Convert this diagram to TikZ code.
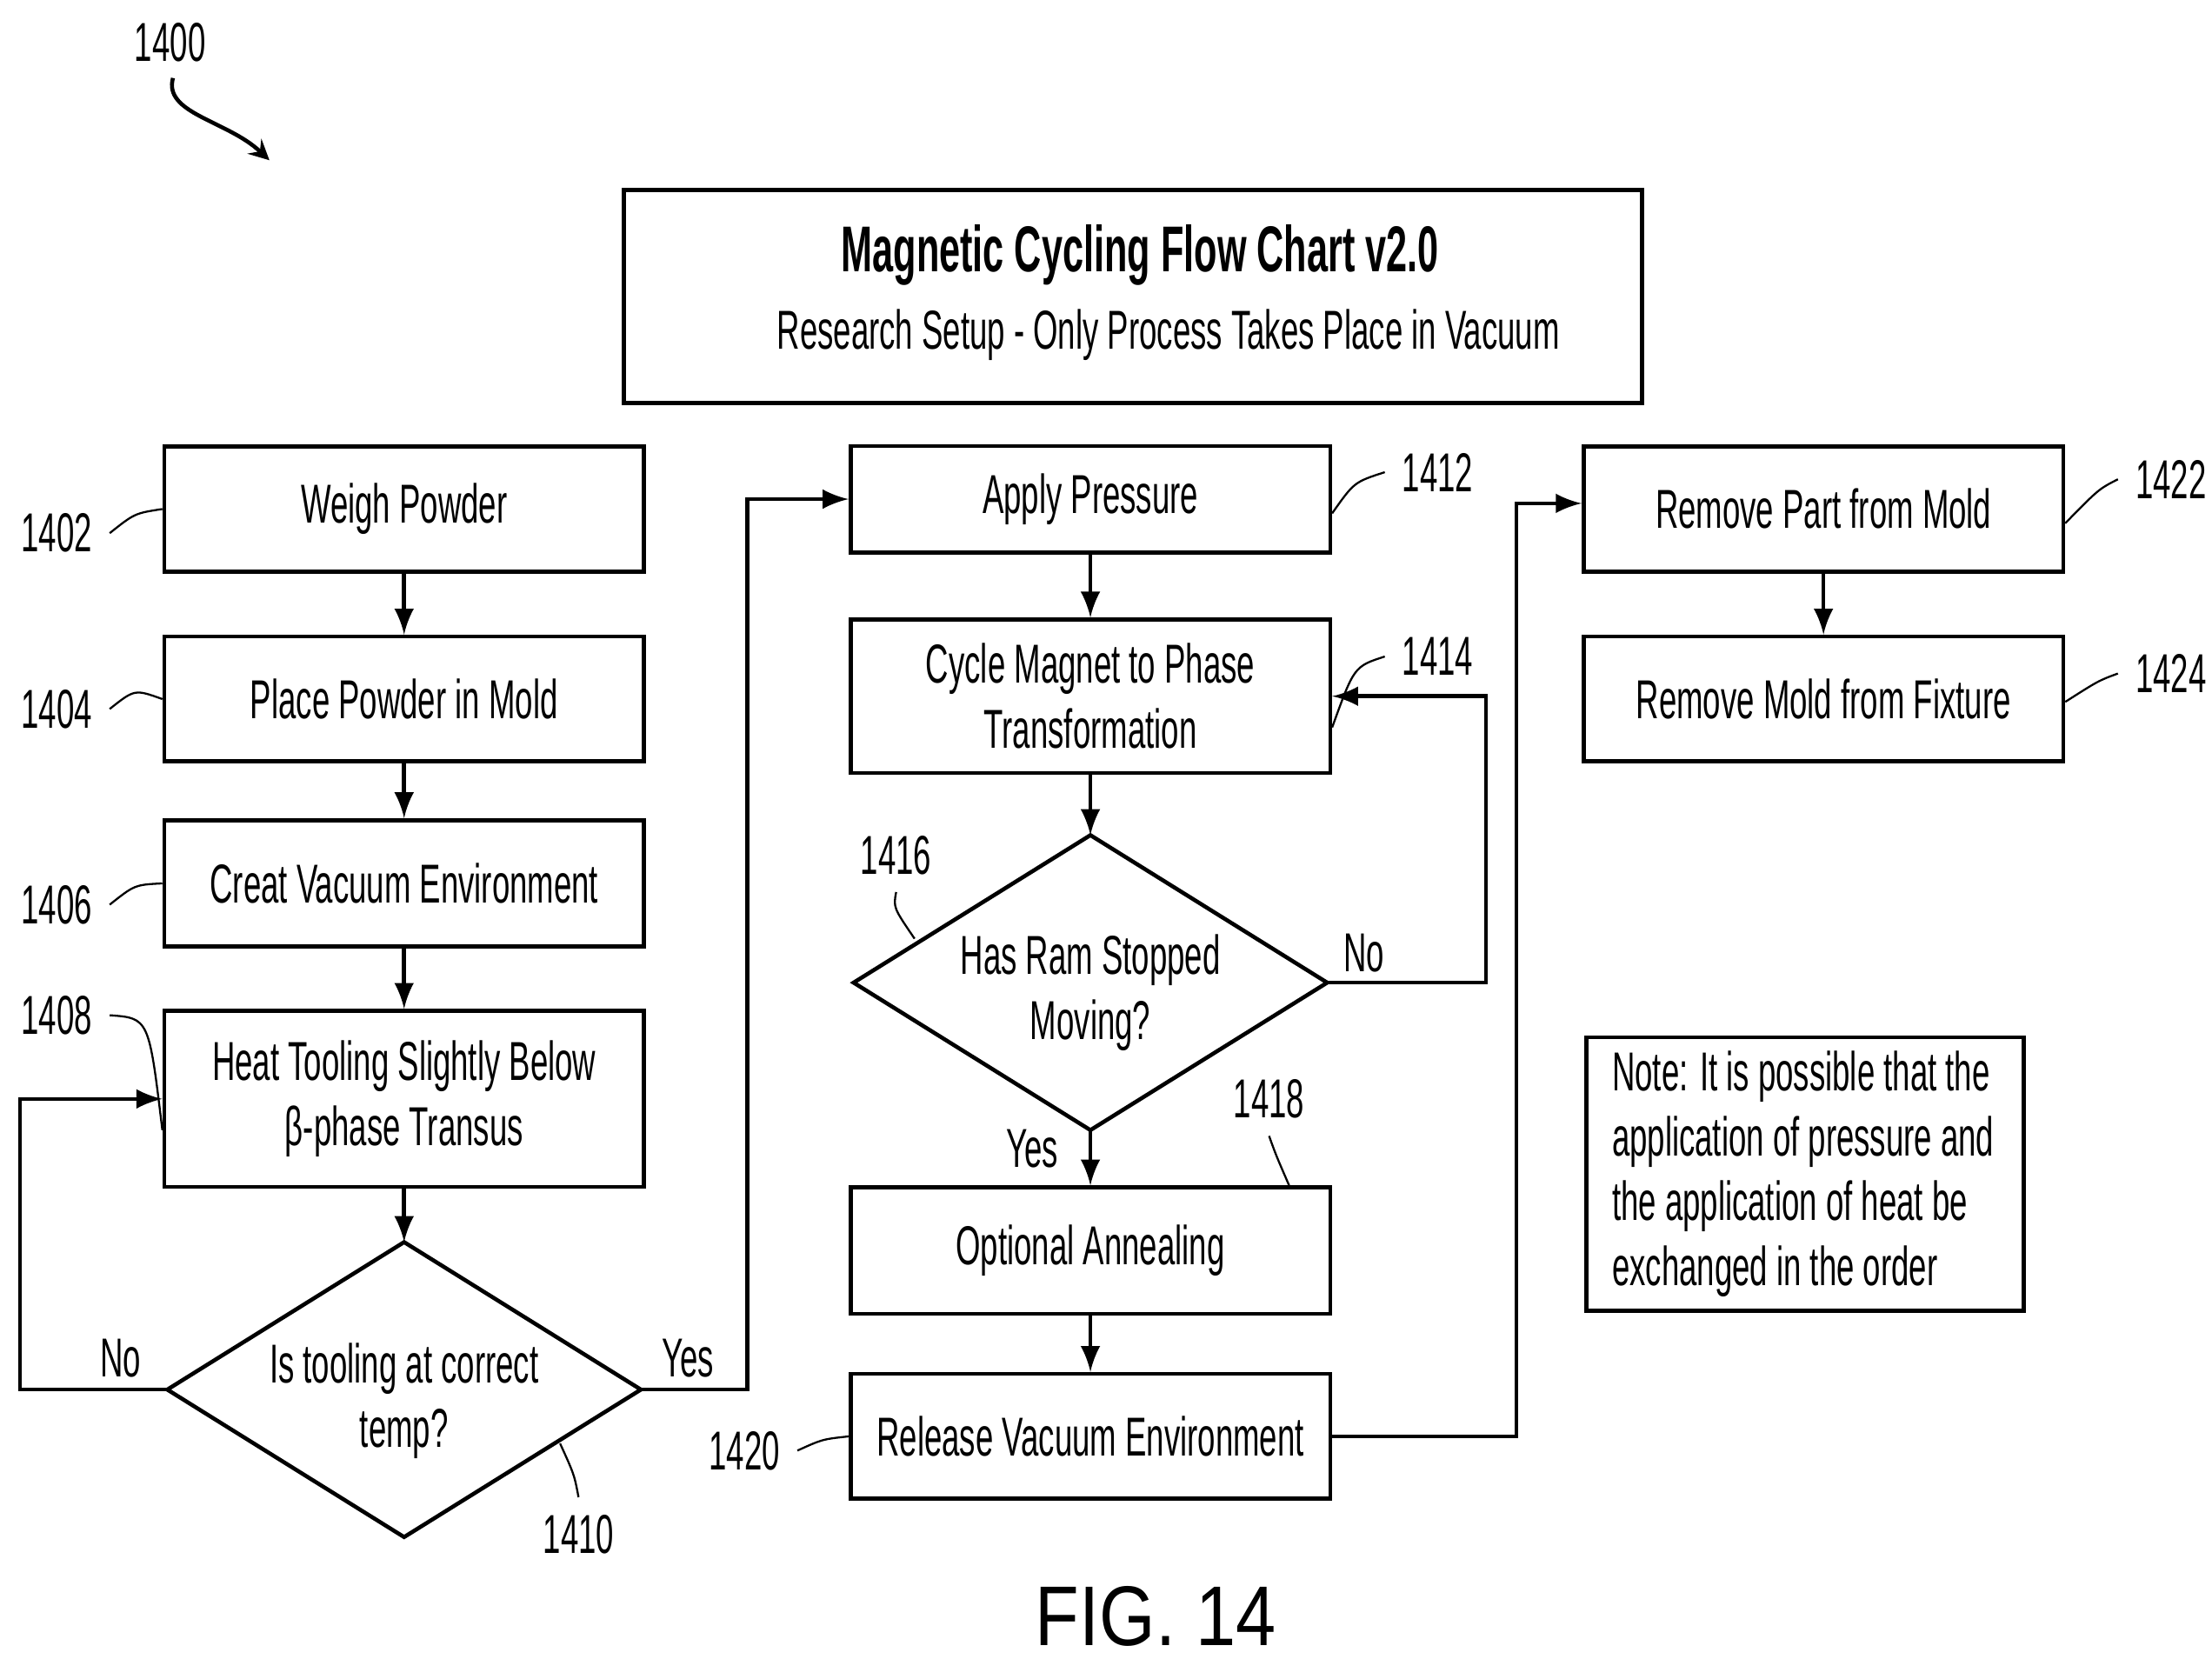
\documentclass[tikz,border=0pt]{standalone}
\usepackage{fontspec}
\setmainfont{Liberation Sans}[FakeStretch=0.58]
\newfontfamily\figfont{Liberation Sans}[FakeStretch=0.85]
\usepackage{tikz}
\usetikzlibrary{arrows,shapes.geometric,positioning}

\tikzset{
    box/.style={draw,rectangle,thick,align=center,inner sep=0pt},
    flow/.style={thick,-latex},
    lead/.style={thin}
}
% diamond of fixed size: #1 name, #2 centre
\newcommand{\decision}[2]{%
    \coordinate (#1-n) at ($#2+(0,-104)$);
    \coordinate (#1-s) at ($#2+(0,104)$);
    \coordinate (#1-w) at ($#2+(-167,0)$);
    \coordinate (#1-e) at ($#2+(167,0)$);
    \draw[thick] (#1-n) -- (#1-e) -- (#1-s) -- (#1-w) -- cycle;
}
\usetikzlibrary{calc}

\begin{document}
\begin{tikzpicture}[x=0.01cm,y=-0.01cm,font=\fontsize{11}{13}\selectfont]
    \useasboundingbox (0,0) rectangle (1560,1170);
    % title
    \node[box,minimum width=7.18cm,minimum height=1.5cm] (title) at (799,209) {};
    \node[font=\fontsize{13}{15}\selectfont\bfseries] (ttl) at (804,180) {Magnetic Cycling Flow Chart v2.0};
    \node (sub) at (824,236) {Research Setup - Only Process Takes Place in Vacuum};
    % left column
    \node[box,minimum width=3.38cm,minimum height=0.88cm] (weigh) at (285,359) {Weigh Powder};
    \node[box,minimum width=3.38cm,minimum height=0.88cm] (place) at (285,493) {Place Powder in Mold};
    \node[box,minimum width=3.38cm,minimum height=0.89cm] (vac) at (285,623) {Creat Vacuum Environment};
    \node[box,minimum width=3.38cm,minimum height=1.24cm] (heat) at (285,775) {Heat Tooling Slightly Below\\β-phase Transus};
    \decision{temp}{(285,980)}
    \node[align=center] (tempt) at (285,988) {Is tooling at correct\\temp?};
    % middle column
    \node[box,minimum width=3.38cm,minimum height=0.75cm] (press) at (769,352) {Apply Pressure};
    \node[box,minimum width=3.38cm,minimum height=1.08cm] (cycle) at (769,491) {Cycle Magnet to Phase\\Transformation};
    \decision{ram}{(769,693)}
    \node[align=center] (ramt) at (769,700) {Has Ram Stopped\\Moving?};
    \node[box,minimum width=3.38cm,minimum height=0.89cm] (anneal) at (769,882) {Optional Annealing};
    \node[box,minimum width=3.38cm,minimum height=0.88cm] (rel) at (769,1013) {Release Vacuum Environment};
    % right column
    \node[box,minimum width=3.38cm,minimum height=0.88cm] (part) at (1286,359) {Remove Part from Mold};
    \node[box,minimum width=3.38cm,minimum height=0.88cm] (mold) at (1286,493) {Remove Mold from Fixture};
    \node[box,minimum width=3.08cm,minimum height=1.93cm,align=flush left,text width=2.72cm] (note) at (1273,828)
        {Note: It is possible that the application of pressure and the application of heat be exchanged in the order};
    % connectors
    \draw[flow] (weigh) -- (place);
    \draw[flow] (place) -- (vac);
    \draw[flow] (vac) -- (heat);
    \draw[flow] (heat) -- (temp-n);
    \draw[flow] (temp-w) -- ++(-104,0) |- (heat.west);
    \draw[flow] (temp-e) -- ++(75,0) |- (press.west);
    \draw[flow] (press) -- (cycle);
    \draw[flow] (cycle) -- (ram-n);
    \draw[flow] (ram-e) -- ++(112,0) |- (cycle.east);
    \draw[flow] (ram-s) -- (anneal);
    \draw[flow] (anneal) -- (rel);
    \draw[flow] (rel.east) -- ++(130,0) |- ([yshift=0.04cm]part.west);
    \draw[flow] (part) -- (mold);
    % branch labels
    \node (no1) at (85,958) {No};
    \node (yes1) at (485,958) {Yes};
    \node (no2) at (962,672) {No};
    \node (yes2) at (728,810) {Yes};
    % reference numerals
    \node (n1400) at (120,30) {1400};
    \draw[thick,-stealth] (122,55) .. controls (115,80) and (160,85) .. (190,113);
    \node (n1402) at (40,376) {1402};
    \draw[lead] (n1402.east) .. controls (95,362) .. (weigh.west);
    \node (n1404) at (40,500) {1404};
    \draw[lead] (n1404.east) .. controls (95,486) .. (place.west);
    \node (n1406) at (40,638) {1406};
    \draw[lead] (n1406.east) .. controls (95,624) .. (vac.west);
    \node (n1408) at (40,716) {1408};
    \draw[lead] (n1408.east) .. controls (105,718) .. ([yshift=-0.22cm]heat.west);
    \node (n1410) at (408,1082) {1410};
    \draw[lead] (n1410.north) .. controls (405,1040) .. (395,1018);
    \node (n1412) at (1014,333) {1412};
    \draw[lead] (n1412.west) .. controls (955,340) .. ([yshift=-0.1cm]press.east);
    \node (n1414) at (1014,463) {1414};
    \draw[lead] (n1414.west) .. controls (955,470) .. ([yshift=-0.22cm]cycle.east);
    \node (n1416) at (632,603) {1416};
    \draw[lead] (n1416.south) .. controls (630,640) .. (645,662);
    \node (n1418) at (895,775) {1418};
    \draw[lead] (n1418.south) .. controls (900,815) .. (910,838);
    \node (n1420) at (525,1023) {1420};
    \draw[lead] (n1420.east) .. controls (580,1015) .. (rel.west);
    \node (n1422) at (1531,338) {1422};
    \draw[lead] (n1422.west) .. controls (1480,345) .. ([yshift=-0.1cm]part.east);
    \node (n1424) at (1531,475) {1424};
    \draw[lead] (n1424.west) .. controls (1480,480) .. ([yshift=-0.02cm]mold.east);
    % figure label
    \node[font=\figfont\fontsize{17}{20}\selectfont] (fig) at (815,1140) {FIG. 14};
\end{tikzpicture}
\end{document}
